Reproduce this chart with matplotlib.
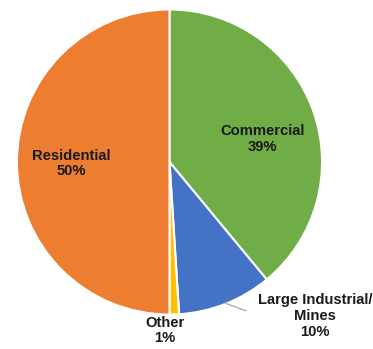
import matplotlib.pyplot as plt

# electricity sales share by customer class
labels = ["Commercial", "Large Industrial/\nMines", "Other", "Residential"]
shares = [39, 10, 1, 50]
colors = ["#70AD47", "#4472C4", "#FFC000", "#ED7D31"]

# label anchor points (in pie-radius units)
label_pos = [(0.61, 0.15), (0.955, -1.01), (-0.03, -1.105), (-0.645, -0.01)]

plt.rcParams['font.family'] = ['Liberation Sans', 'DejaVu Sans']

fig = plt.figure(figsize=(3.73, 3.49), dpi=100)
ax = fig.add_axes([0, 0, 1, 1])

wedges, _ = ax.pie(shares, colors=colors, startangle=90, counterclock=False,
                   wedgeprops=dict(edgecolor="white", linewidth=1.5))

for lab, val, (x, y) in zip(labels, shares, label_pos):
    ax.text(x, y, f"{lab}\n{val}%", ha="center", va="center",
            fontsize=10.6, fontweight="bold", color="#1a1a1a", linespacing=1.15)

# leader line for the small outside label
ax.plot([0.364, 0.50], [-0.925, -0.975], color="#a6a6a6", linewidth=0.9)

ax.set_xlim(-1.111, 1.334)
ax.set_ylim(-1.226, 1.062)
ax.set_aspect("auto")
ax.axis("off")

fig.savefig("out.png", dpi=100)
